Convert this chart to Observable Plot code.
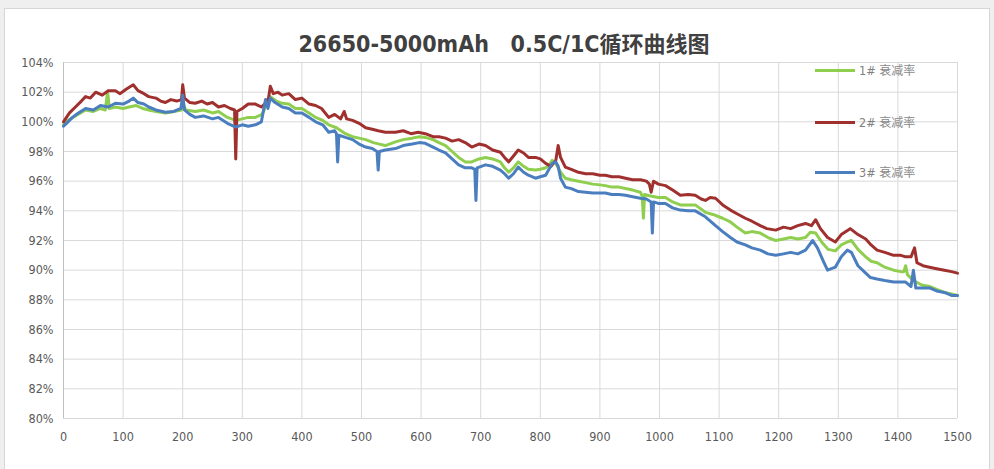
<!DOCTYPE html>
<html>
<head>
<meta charset="utf-8">
<script src="https://cdn.jsdelivr.net/npm/d3@7"></script>
<script src="https://cdn.jsdelivr.net/npm/@observablehq/plot@0.6"></script>
<style>
  html, body { margin: 0; padding: 0; background: #efefef; }
  body { width: 994px; height: 469px; position: relative; overflow: hidden; font-family: "DejaVu Sans Condensed", "Noto Sans CJK SC", sans-serif; }
  #panel { position: absolute; left: 4px; top: 8px; width: 986px; height: 470px; background: #fff; border: 1px solid #d6d6d6; box-sizing: border-box; }
  #title { position: absolute; left: 0; top: 26px; width: 1008px; text-align: center; font-size: 23px; font-weight: bold; color: #404040; font-family: "DejaVu Sans Condensed", "Noto Sans CJK SC", sans-serif; white-space: pre; }
  #title .cjk { font-family: "Noto Sans CJK SC", sans-serif; font-size: 22px; }
  #chart { position: absolute; left: 0; top: 0; }
  .lg { position: absolute; left: 815px; height: 14px; font-size: 12.5px; color: #7f7f7f; font-family: "DejaVu Sans Condensed", "Noto Sans CJK SC", sans-serif; white-space: nowrap; }
  .lg i { display: inline-block; width: 40px; height: 3px; vertical-align: middle; margin-right: 4px; position: relative; top: -1px; }
  .lg span.c { font-family: "Noto Sans CJK SC", sans-serif; font-size: 12px; color: #8a8a8a; }
</style>
</head>
<body>
<div id="panel"></div>
<div id="chart"></div>
<div id="title">26650-5000mAh   0.5C/1C<span class="cjk">循环曲线图</span></div>
<div id="legend"></div>
<script>
// ---- data ----
const seriesNames = ["1# 衰减率", "2# 衰减率", "3# 衰减率"];
const seriesColors = ["#8fce4f", "#a0302e", "#4a7ebf"];

const cycles1 = [0,8,20,37,50,62,70,74,77,87,100,110,122,133,143,155,171,185,198,201,205,221,235,250,260,275,289,300,310,322,333,339,347,357,367,378,389,400,412,423,435,445,458,473,485,496,507,520,530,540,557,570,585,597,607,620,630,641,652,663,674,685,697,708,720,733,740,747,755,763,772,780,792,800,809,815,820,826,834,842,852,864,876,888,900,909,920,932,943,955,968,971,973,975,985,998,1010,1022,1035,1048,1060,1077,1094,1106,1119,1130,1144,1155,1169,1182,1195,1208,1220,1232,1245,1253,1262,1272,1283,1295,1305,1315,1322,1333,1346,1355,1365,1378,1393,1405,1410,1413,1416,1426,1440,1453,1465,1478,1490,1500];
const values1 = [99.8,100.1,100.4,100.8,100.7,100.9,100.8,102.0,100.9,101.0,100.9,101.0,101.1,100.9,100.8,100.7,100.6,100.7,100.8,101.2,100.8,100.7,100.8,100.6,100.7,100.3,100.1,100.2,100.3,100.3,100.5,101.0,101.7,101.4,101.25,101.2,100.9,100.9,100.6,100.3,100.1,99.8,99.6,99.2,99.0,98.9,98.8,98.6,98.5,98.4,98.65,98.8,98.9,99.0,98.95,98.8,98.6,98.4,98.0,97.6,97.3,97.3,97.5,97.6,97.5,97.3,96.9,96.6,96.9,97.3,97.0,96.8,96.75,96.8,96.9,97.1,97.4,97.2,96.6,96.2,96.1,96.0,95.9,95.8,95.75,95.7,95.6,95.6,95.5,95.4,95.25,95.0,93.5,95.1,95.0,94.9,94.9,94.6,94.4,94.4,94.4,93.9,93.7,93.5,93.25,92.9,92.5,92.6,92.5,92.2,92.0,92.1,92.2,92.1,92.2,92.55,92.5,91.9,91.4,91.3,91.7,91.9,92.0,91.4,90.9,90.6,90.5,90.2,90.0,89.9,89.9,90.3,89.7,89.3,89.0,88.9,88.7,88.5,88.4,88.3];

const cycles2 = [0,10,20,30,37,45,54,65,75,87,95,105,117,125,135,143,155,163,171,180,190,198,200,203,212,221,232,241,250,260,270,280,287,289,291,300,310,322,332,340,344,347,352,360,367,378,389,400,412,423,433,445,455,465,471,475,485,496,507,518,528,540,557,570,583,595,607,620,630,641,652,663,674,685,697,708,720,733,740,747,755,763,772,780,792,800,809,818,826,830,834,842,852,864,876,888,900,909,920,932,943,955,968,978,983,986,990,998,1010,1022,1035,1048,1060,1070,1077,1085,1094,1106,1119,1130,1144,1155,1169,1180,1195,1208,1220,1232,1245,1255,1262,1270,1282,1295,1305,1320,1333,1346,1355,1365,1378,1393,1405,1413,1422,1428,1432,1442,1453,1465,1478,1490,1500];
const values2 = [100.0,100.6,101.0,101.4,101.7,101.6,102.0,101.8,102.1,102.1,101.9,102.2,102.5,102.1,101.9,101.7,101.6,101.4,101.3,101.5,101.4,101.5,102.5,101.6,101.3,101.25,101.4,101.2,101.3,101.0,101.1,100.9,100.8,97.5,100.7,100.9,101.2,101.2,101.0,101.3,101.6,102.4,101.9,102.0,101.8,101.9,101.5,101.6,101.2,101.1,100.9,100.3,100.5,100.2,100.7,100.2,100.1,99.9,99.6,99.5,99.4,99.3,99.3,99.4,99.2,99.3,99.2,99.0,99.0,98.9,98.7,98.8,98.6,98.3,98.5,98.4,98.1,97.95,97.6,97.3,97.7,98.1,97.9,97.6,97.6,97.5,97.2,97.0,97.4,98.4,97.6,96.95,96.8,96.6,96.5,96.5,96.4,96.4,96.3,96.3,96.2,96.1,96.1,96.0,95.8,95.25,96.0,95.8,95.7,95.4,95.05,95.1,95.05,94.8,94.7,94.9,94.85,94.4,94.05,93.8,93.5,93.3,93.0,92.8,92.7,92.9,92.8,93.0,93.15,93.0,93.4,92.8,92.2,91.9,92.4,92.8,92.4,92.1,91.7,91.35,91.2,91.0,91.0,90.9,90.9,91.5,90.5,90.3,90.2,90.1,90.0,89.9,89.8];

const cycles3 = [0,5,15,25,37,50,62,75,87,100,110,117,125,135,143,155,171,185,197,200,203,212,221,235,250,260,275,289,300,310,322,332,339,343,347,355,367,378,389,400,412,423,435,445,455,458,460,462,473,485,496,507,518,526,528,530,540,557,570,585,597,607,620,630,641,652,663,674,685,690,692,694,708,720,733,740,747,755,763,772,780,792,800,809,820,826,830,834,842,852,864,876,888,900,909,920,932,943,955,968,978,986,988,990,998,1010,1022,1035,1048,1060,1077,1094,1106,1119,1130,1144,1155,1169,1182,1195,1208,1220,1232,1245,1257,1265,1275,1282,1295,1305,1315,1322,1333,1346,1354,1365,1378,1393,1405,1413,1422,1426,1430,1440,1453,1465,1478,1490,1500];
const values3 = [99.7,99.9,100.3,100.6,100.9,100.8,101.1,101.0,101.25,101.2,101.4,101.6,101.3,101.2,101.0,100.8,100.65,100.7,100.9,101.8,100.8,100.5,100.3,100.4,100.2,100.3,99.9,99.65,99.8,99.7,99.8,100.0,101.5,100.9,101.6,101.3,101.0,100.9,100.6,100.6,100.3,100.0,99.8,99.3,99.4,99.2,97.3,99.1,98.95,98.8,98.5,98.3,98.2,98.0,96.75,98.0,98.1,98.2,98.4,98.5,98.6,98.55,98.3,98.1,97.9,97.5,97.1,96.9,96.9,96.8,94.7,96.9,97.1,97.0,96.75,96.5,96.2,96.5,96.95,96.6,96.4,96.2,96.3,96.4,97.2,97.3,97.0,96.2,95.6,95.5,95.3,95.25,95.2,95.2,95.2,95.1,95.1,95.05,94.95,94.85,94.8,94.6,92.5,94.6,94.5,94.5,94.2,94.05,94.0,94.0,93.6,93.0,92.6,92.2,91.9,91.7,91.5,91.35,91.1,91.0,91.1,91.2,91.1,91.35,92.0,91.5,90.6,90.0,90.2,90.9,91.35,91.2,90.3,89.8,89.5,89.4,89.3,89.2,89.2,89.2,88.9,90.0,88.8,88.8,88.8,88.6,88.5,88.3,88.3];

const xTicks = d3.range(0, 1501, 100);
const yTicks = d3.range(80, 105, 2);

// ---- build table ----
const allCycles = [cycles1, cycles2, cycles3];
const allValues = [values1, values2, values3];
const rows = [];
allCycles.forEach((cs, s) => cs.forEach((c, i) => rows.push({series: seriesNames[s], cycle: c, value: allValues[s][i]})));

const plot = Plot.plot({
  width: 994,
  height: 469,
  marginLeft: 63,
  marginRight: 37,
  marginTop: 62,
  marginBottom: 51,
  style: {fontFamily: '"DejaVu Sans Condensed", sans-serif', fontSize: "12.5px", color: "#595959", background: "transparent"},
  x: {domain: [0, 1500], ticks: xTicks, tickSize: 0, tickPadding: 14, label: null},
  y: {domain: [80, 104], ticks: yTicks, tickSize: 0, tickPadding: 10, tickFormat: d => d + "%", label: null},
  color: {domain: seriesNames, range: seriesColors},
  marks: [
    Plot.gridX(xTicks, {stroke: "#d9d9d9", strokeOpacity: 1}),
    Plot.gridY(yTicks, {stroke: "#d9d9d9", strokeOpacity: 1}),
    Plot.ruleX([0], {stroke: "#c0c0c0"}),
    Plot.axisX({ticks: xTicks, tickSize: 0, tickPadding: 14, tickFormat: d => String(d), fill: "#595959"}),
    Plot.axisY({ticks: yTicks, tickSize: 0, tickPadding: 10, tickFormat: d => d + "%", fill: "#595959"}),
    Plot.line(rows, {x: "cycle", y: "value", z: "series", stroke: "series", strokeWidth: 3, strokeLinejoin: "round"})
  ]
});
document.getElementById("chart").appendChild(plot);

// legend (HTML)
const legendTops = [61, 113, 163];
const lg = document.getElementById("legend");
seriesNames.forEach((n, i) => {
  const d = document.createElement("div");
  d.className = "lg";
  d.style.top = legendTops[i] + "px";
  const [num, txt] = n.split(" ");
  d.innerHTML = `<i style="background:${seriesColors[i]}"></i>${num} <span class="c">${txt}</span>`;
  lg.appendChild(d);
});
</script>
</body>
</html>
